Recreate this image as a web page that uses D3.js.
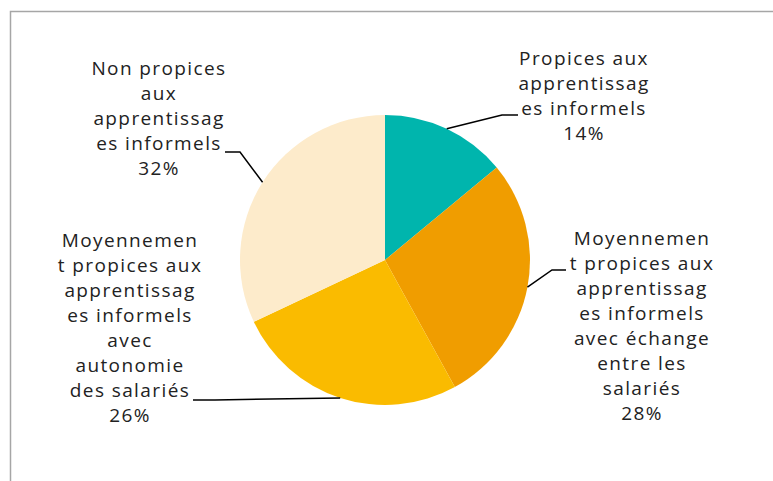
<!DOCTYPE html>
<html>
<head>
<meta charset="utf-8">
<style>
  body { margin: 0; background: #fff; }
  text { font-family: "Open Sans", sans-serif; font-size: 19px; letter-spacing: 1.4px; fill: #222; }
</style>
</head>
<body>
<script src="https://d3js.org/d3.v7.min.js"></script>
<script>
// data
const categories = [
  "Propices aux apprentissages informels",
  "Moyennement propices aux apprentissages informels avec échange entre les salariés",
  "Moyennement propices aux apprentissages informels avec autonomie des salariés",
  "Non propices aux apprentissages informels"
];
const values = [14, 28, 26, 32];
const labelLines = [
  ["Propices aux", "apprentissag", "es informels", "14%"],
  ["Moyennemen", "t propices aux", "apprentissag", "es informels", "avec échange", "entre les", "salariés", "28%"],
  ["Moyennemen", "t propices aux", "apprentissag", "es informels", "avec", "autonomie", "des salariés", "26%"],
  ["Non propices", "aux", "apprentissag", "es informels", "32%"]
];
const colors = ["#00b5ad", "#f09d00", "#fabb00", "#fdebcb"];

const width = 773, height = 481;
const cx = 385, cy = 260, r = 145;

// label layout: text centre x, first baseline y, elbow and end of leader
const layout = [
  {x: 584, y: 65, elbow: [502, 115], end: [518, 115]},
  {x: 642, y: 245, elbow: [552, 270], end: [566, 270]},
  {x: 130, y: 247, elbow: [215, 400], end: [193, 400]},
  {x: 159, y: 75, elbow: [240, 152], end: [225, 152]}
];
const lineH = 25;

const svg = d3.select("body").append("svg")
  .attr("width", width)
  .attr("height", height);

// frame
svg.append("path")
  .attr("d", "M10.5," + (height + 5) + " V11.5 H" + (width + 5))
  .attr("fill", "none")
  .attr("stroke", "#a6a6a6")
  .attr("stroke-width", 1.5);

const pie = d3.pie().sort(null).value(d => d);
const arcs = pie(values);
const arc = d3.arc().innerRadius(0).outerRadius(r);

const g = svg.append("g").attr("transform", "translate(" + cx + "," + cy + ")");

g.selectAll("path.slice")
  .data(arcs)
  .enter()
  .append("path")
    .attr("class", "slice")
    .attr("d", arc)
    .attr("fill", (d, i) => colors[i]);

// leader lines, starting on the rim at mid angle
arcs.forEach((a, i) => {
  const mid = (a.startAngle + a.endAngle) / 2;
  const sx = cx + r * Math.sin(mid), sy = cy - r * Math.cos(mid);
  const L = layout[i];
  svg.append("polyline")
    .attr("points", [[sx, sy], L.elbow, L.end].map(p => p.join(",")).join(" "))
    .attr("fill", "none")
    .attr("stroke", "#000")
    .attr("stroke-width", 1.5);

  const t = svg.append("text")
    .attr("text-anchor", "middle");
  labelLines[i].forEach((s, j) => {
    t.append("tspan")
      .attr("x", L.x)
      .attr("y", L.y + j * lineH)
      .text(s);
  });
});
</script>
</body>
</html>
